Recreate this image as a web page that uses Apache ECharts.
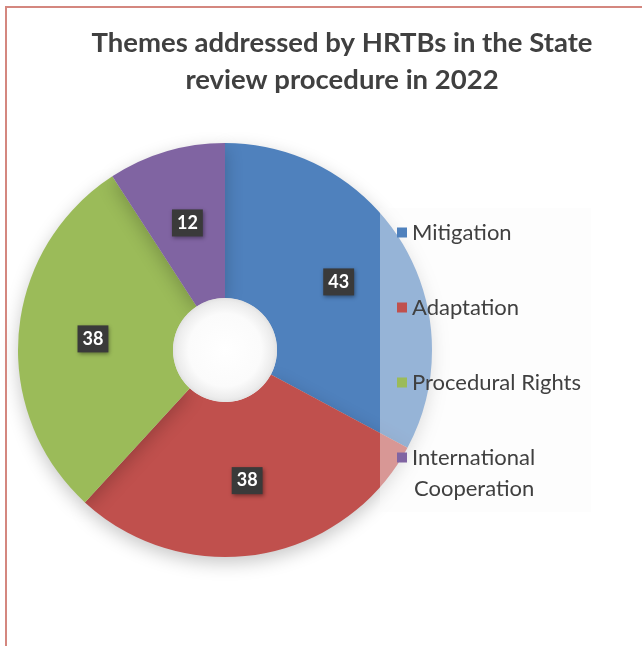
<!DOCTYPE html>
<html>
<head>
<meta charset="utf-8">
<script src="https://cdn.jsdelivr.net/npm/echarts@6/dist/echarts.min.js"></script>
<style>
html,body{margin:0;padding:0;background:#fff;}
#main{width:642px;height:646px;}
</style>
</head>
<body>
<div id="main"></div>
<script>
const titleText = 'Themes addressed by HRTBs in the State\nreview procedure in 2022';
const categories = ['Mitigation', 'Adaptation', 'Procedural Rights', 'International Cooperation'];
const legendLine1 = ['Mitigation', 'Adaptation', 'Procedural Rights', 'International'];
const legendLine2 = ['', '', '', 'Cooperation'];
const values = [43, 38, 38, 12];
const colors = ['#4f81bd', '#c0504d', '#9bbb59', '#8064a2'];

const chart = echarts.init(document.getElementById('main'), null, {renderer: 'canvas'});
const font = 'Lato, "Open Sans", sans-serif';

chart.setOption({
  animation: false,
  backgroundColor: '#fff',
  title: {
    text: titleText,
    left: 337,
    textAlign: 'center',
    top: 20,
    textStyle: {fontFamily: font, fontSize: 27.5, fontWeight: 'bold', color: '#404040', lineHeight: 37}
  },
  graphic: [
    {type: 'rect', left: 5, top: 6, shape: {width: 2, height: 640}, style: {fill: '#d4877f'}, z: 10},
    {type: 'rect', left: 5, top: 6, shape: {width: 637, height: 2}, style: {fill: '#d4877f'}, z: 10},
    {type: 'circle', shape: {cx: 225, cy: 350, r: 52}, z: 100, silent: true,
     style: {fill: new echarts.graphic.RadialGradient(0.5, 0.5, 0.5, [
       {offset: 0, color: '#ffffff'}, {offset: 0.7, color: '#fbfbfb'}, {offset: 0.93, color: '#ececec'}, {offset: 1, color: '#e2e2e2'}
     ])}},
    {type: 'text', left: 414, top: 478, z: 100,
     style: {text: legendLine2[3], font: '22px ' + font, fill: '#404040'}}
  ],
  legend: {
    orient: 'vertical',
    left: 380,
    top: 208,
    padding: [10, 10, 40, 17],
    itemGap: 46,
    itemWidth: 10,
    itemHeight: 10,
    backgroundColor: 'rgba(250,250,250,0.42)',
    data: categories.map(c => ({name: c, icon: 'rect'})),
    formatter: function (name) { return legendLine1[categories.indexOf(name)]; },
    textStyle: {fontFamily: font, fontSize: 22, color: '#404040', lineHeight: 29}
  },
  series: [{
    type: 'pie',
    center: [225, 350],
    radius: [52, 207],
    startAngle: 90,
    clockwise: true,
    avoidLabelOverlap: false,
    legendHoverLink: false,
    data: categories.map((c, i) => ({name: c, value: values[i], itemStyle: {color: colors[i]}})),
    itemStyle: {
      shadowBlur: 18,
      shadowColor: 'rgba(0,0,0,0.22)',
      shadowOffsetY: 6
    },
    label: {
      show: true,
      position: 'inside',
      formatter: '{c}',
      color: '#fff',
      fontFamily: font,
      fontSize: 18,
      fontWeight: 'bold',
      backgroundColor: '#3a3a3a',
      padding: [5, 5, 4, 5],
      shadowBlur: 4,
      shadowColor: 'rgba(0,0,0,0.4)',
      shadowOffsetX: 1,
      shadowOffsetY: 2
    },
    labelLine: {show: false}
  }]
});
</script>
</body>
</html>
